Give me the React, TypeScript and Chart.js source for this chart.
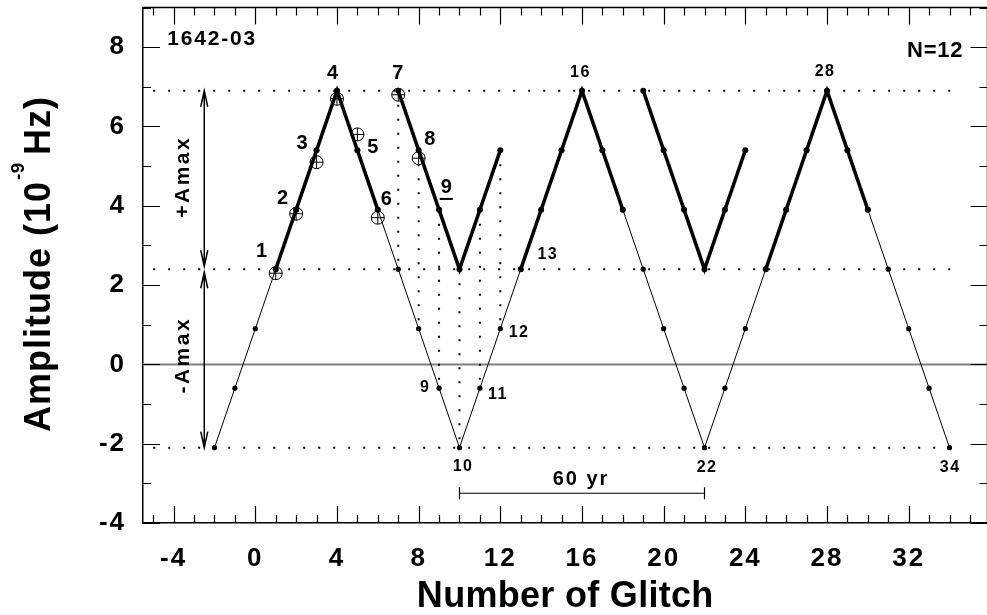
import React, { useEffect, useRef } from 'react';
import { Chart, registerables } from 'chart.js';

Chart.register(...registerables);

const FONT = '"Liberation Sans", Arial, Helvetica, sans-serif';

// model sawtooth (thin line): glitch number vs amplitude
const glitchX = [-2, -1, 0, 1, 2, 3, 4, 5, 6, 7, 8, 9, 10, 11, 12, 13, 14, 15, 16, 17, 18, 19, 20, 21, 22, 23, 24, 25, 26, 27, 28, 29, 30, 31, 32, 33, 34];
const modelAmp = [-2.1, -0.6, 0.9, 2.4, 3.9, 5.4, 6.9, 5.4, 3.9, 2.4, 0.9, -0.6, -2.1, -0.6, 0.9, 2.4, 3.9, 5.4, 6.9, 5.4, 3.9, 2.4, 0.9, -0.6, -2.1, -0.6, 0.9, 2.4, 3.9, 5.4, 6.9, 5.4, 3.9, 2.4, 0.9, -0.6, -2.1];

// folded (thick) branch
const thickX = [1, 2, 3, 4, 5, 6, 7, 8, 9, 10, 11, 12, 13, 14, 15, 16, 17, 18, 19, 20, 21, 22, 23, 24, 25, 26, 27, 28, 29, 30];
const thickAmp = [2.4, 3.9, 5.4, 6.9, 5.4, 3.9, 6.9, 5.4, 3.9, 2.4, 3.9, 5.4, 2.4, 3.9, 5.4, 6.9, 5.4, 3.9, 6.9, 5.4, 3.9, 2.4, 3.9, 5.4, 2.4, 3.9, 5.4, 6.9, 5.4, 3.9];
const thickBreaksAfter = [6, 12, 18, 24];

// observed glitches (circle-plus markers)
const obsX = [1, 2, 3, 4, 5, 6, 7, 8];
const obsAmp = [2.3, 3.8, 5.1, 6.7, 5.8, 3.7, 6.8, 5.2];

// reference levels and vertical drops
const levels = [6.9, 2.4, -2.1];
const levelSpan = [-5.0, 34.4];
const dropX = [7, 8, 9, 10, 11, 12];

// axes
const xRange = [-5.5, 35.86];
const yRange = [-4, 9];
const xTicks = [-4, 0, 4, 8, 12, 16, 20, 24, 28, 32];
const yTicks = [-4, -2, 0, 2, 4, 6, 8];
const xMinorRange = [-5, 35];
const yMinorRange = [-4, 9];

// annotations (text, glitch number, amplitude)
const bigLabels: [string, number, number][] = [
  ['1', 0.31, 2.85], ['2', 1.34, 4.18], ['3', 2.29, 5.58], ['4', 3.78, 7.33],
  ['5', 5.76, 5.48], ['6', 6.42, 4.15], ['7', 6.98, 7.33], ['8', 8.55, 5.66],
];
const underlinedLabel: [string, number, number] = ['9', 9.35, 4.45];
const smallLabels: [string, number, number][] = [
  ['13', 14.29, 2.78], ['16', 15.89, 7.35], ['28', 27.87, 7.38], ['12', 12.88, 0.8],
  ['11', 11.85, -0.75], ['9', 8.29, -0.58], ['10', 10.14, -2.58], ['22', 22.09, -2.6], ['34', 34.0, -2.6],
];
const pulsarName = '1642-03';
const pulsarPos = [-4.31, 8.2];
const nLabel = 'N=12';
const nPos = [34.64, 7.91];
const arrowX = -2.5;
const amaxLabelX = -3.55;
const plusAmaxY = 4.7;
const minusAmaxY = 0.2;
const scaleBarX = [10, 22];
const scaleBarY = -3.25;
const scaleBarLabel = '60 yr';

function drawText(ctx: CanvasRenderingContext2D, s: string, x: number, y: number, size: number, align: CanvasTextAlign, spacing: number) {
  ctx.font = `bold ${size}px ${FONT}`;
  (ctx as any).letterSpacing = `${spacing}px`;
  ctx.textAlign = 'left';
  ctx.textBaseline = 'middle';
  const w = ctx.measureText(s).width - spacing;
  let x0 = x;
  if (align === 'center') x0 = x - w / 2;
  else if (align === 'right') x0 = x - w;
  ctx.fillText(s, x0, y);
  return { x0, w };
}

const decorPlugin = {
  id: 'decor',
  beforeDraw(chart: any) {
    chart.ctx.letterSpacing = '2px';
  },
  afterDatasetsDraw(chart: any) {
    const { ctx, chartArea: a, scales } = chart;
    const x = scales.x;
    const y = scales.y;
    ctx.save();
    ctx.fillStyle = '#000';
    ctx.strokeStyle = '#000';

    // top and right frame
    ctx.lineWidth = 1.5;
    ctx.beginPath();
    ctx.moveTo(a.left, a.top);
    ctx.lineTo(a.right, a.top);
    ctx.lineTo(a.right, a.bottom);
    ctx.stroke();

    // inward ticks on all sides
    ctx.lineWidth = 1.2;
    ctx.beginPath();
    for (let v = xMinorRange[0]; v <= xMinorRange[1]; v++) {
      const px = Math.round(x.getPixelForValue(v)) + 0.5;
      const len = xTicks.includes(v) ? 17 : 8;
      ctx.moveTo(px, a.bottom);
      ctx.lineTo(px, a.bottom - len);
      ctx.moveTo(px, a.top);
      ctx.lineTo(px, a.top + len);
    }
    for (let v = yMinorRange[0]; v <= yMinorRange[1]; v++) {
      const py = Math.round(y.getPixelForValue(v)) + 0.5;
      const len = yTicks.includes(v) ? 17 : 8;
      ctx.moveTo(a.left, py);
      ctx.lineTo(a.left + len, py);
      ctx.moveTo(a.right, py);
      ctx.lineTo(a.right - len, py);
    }
    ctx.stroke();

    // double arrows for +Amax / -Amax
    const ax = x.getPixelForValue(arrowX);
    const yTop = y.getPixelForValue(levels[0]);
    const yMid = y.getPixelForValue(levels[1]);
    const yBot = y.getPixelForValue(levels[2]);
    ctx.lineWidth = 1.5;
    const head = (tipY: number, dir: number) => {
      ctx.moveTo(ax - 3.5, tipY + dir * 16);
      ctx.lineTo(ax, tipY);
      ctx.lineTo(ax + 3.5, tipY + dir * 16);
    };
    ctx.beginPath();
    ctx.moveTo(ax, yTop);
    ctx.lineTo(ax, yMid - 3);
    ctx.moveTo(ax, yMid + 3);
    ctx.lineTo(ax, yBot);
    head(yTop, 1);
    head(yMid - 3, -1);
    head(yMid + 3, 1);
    head(yBot, -1);
    ctx.stroke();

    // Amax labels (rotated)
    const lx = x.getPixelForValue(amaxLabelX);
    [['+Amax', plusAmaxY], ['-Amax', minusAmaxY]].forEach(([s, v]) => {
      ctx.save();
      ctx.translate(lx, y.getPixelForValue(v as number));
      ctx.rotate(-Math.PI / 2);
      drawText(ctx, s as string, 0, 0, 21, 'center', 2.5);
      ctx.restore();
    });

    // 60 yr scale bar
    const b0 = x.getPixelForValue(scaleBarX[0]);
    const b1 = x.getPixelForValue(scaleBarX[1]);
    const by = y.getPixelForValue(scaleBarY);
    ctx.lineWidth = 1.2;
    ctx.beginPath();
    ctx.moveTo(b0, by); ctx.lineTo(b1, by);
    ctx.moveTo(b0, by - 6); ctx.lineTo(b0, by + 6);
    ctx.moveTo(b1, by - 6); ctx.lineTo(b1, by + 6);
    ctx.stroke();
    drawText(ctx, scaleBarLabel, x.getPixelForValue((scaleBarX[0] + scaleBarX[1]) / 2) - 2, by - 14, 20, 'center', 2);

    // point labels
    bigLabels.forEach(([s, vx, vy]) => drawText(ctx, s, x.getPixelForValue(vx), y.getPixelForValue(vy), 20, 'center', 0));
    const u = drawText(ctx, underlinedLabel[0], x.getPixelForValue(underlinedLabel[1]), y.getPixelForValue(underlinedLabel[2]), 20, 'center', 0);
    ctx.fillRect(u.x0 - 1, y.getPixelForValue(underlinedLabel[2]) + 10, u.w + 2, 2);
    smallLabels.forEach(([s, vx, vy]) => drawText(ctx, s, x.getPixelForValue(vx), y.getPixelForValue(vy), 16, 'center', 1.5));
    drawText(ctx, pulsarName, x.getPixelForValue(pulsarPos[0]), y.getPixelForValue(pulsarPos[1]), 21, 'left', 1.8);
    drawText(ctx, nLabel, x.getPixelForValue(nPos[0]), y.getPixelForValue(nPos[1]), 22, 'right', 0.8);

    // axis titles
    ctx.font = `bold 36px ${FONT}`;
    (ctx as any).letterSpacing = '0.3px';
    ctx.textAlign = 'center';
    ctx.textBaseline = 'alphabetic';
    ctx.fillText('Number of Glitch', (a.left + a.right) / 2, 607);

    ctx.save();
    ctx.translate(50, 432);
    ctx.rotate(-Math.PI / 2);
    ctx.textAlign = 'left';
    ctx.font = `bold 36px ${FONT}`;
    (ctx as any).letterSpacing = '1px';
    const p1 = 'Amplitude (10';
    ctx.fillText(p1, 0, 0);
    const w1 = ctx.measureText(p1).width;
    ctx.font = `bold 19px ${FONT}`;
    (ctx as any).letterSpacing = '0.5px';
    ctx.fillText('-9', w1 + 1, -26);
    const w2 = ctx.measureText('-9').width;
    ctx.font = `bold 36px ${FONT}`;
    (ctx as any).letterSpacing = '1px';
    ctx.fillText('Hz)', w1 + w2 + 8, 0);
    ctx.restore();

    ctx.restore();
    chart.ctx.letterSpacing = '2px';
  },
};

export default function App() {
  const ref = useRef<HTMLCanvasElement | null>(null);

  useEffect(() => {
    if (!ref.current) return;
    const pts = (xs: number[], ys: number[]) => xs.map((v, i) => ({ x: v, y: ys[i] }));
    const guide = (data: { x: number; y: number }[], dash: number[], color = '#000', width = 2, order = 10) => ({
      type: 'line' as const,
      data,
      borderColor: color,
      borderWidth: width,
      borderDash: dash,
      pointRadius: 0,
      fill: false,
      order,
    });

    const datasets: any[] = [
      guide([{ x: xRange[0], y: 0 }, { x: xRange[1], y: 0 }], [], '#808080', 2, 12),
      ...levels.map((l) => guide([{ x: levelSpan[0], y: l }, { x: levelSpan[1], y: l }], [2, 13])),
      ...dropX.map((dx) =>
        guide(
          [
            { x: dx, y: thickAmp[thickX.indexOf(dx)] },
            { x: dx, y: modelAmp[glitchX.indexOf(dx)] },
          ],
          [2, 12],
        ),
      ),
      {
        type: 'line',
        data: pts(glitchX, modelAmp),
        borderColor: '#000',
        borderWidth: 1,
        pointRadius: 2.6,
        pointBackgroundColor: '#000',
        pointBorderWidth: 0,
        fill: false,
        order: 5,
      },
      {
        type: 'line',
        data: pts(thickX, thickAmp),
        borderColor: '#000',
        borderWidth: 3.6,
        pointRadius: 3,
        pointBackgroundColor: '#000',
        pointBorderWidth: 0,
        fill: false,
        order: 3,
        segment: {
          borderColor: (c: any) => (thickBreaksAfter.includes(c.p0.parsed.x) ? 'rgba(0,0,0,0)' : '#000'),
        },
      },
      {
        type: 'line',
        data: pts(obsX, obsAmp),
        showLine: false,
        pointStyle: 'circle',
        pointRadius: 6.5,
        pointBorderWidth: 1,
        pointBorderColor: '#000',
        pointBackgroundColor: 'rgba(255,255,255,0)',
        order: 1,
      },
      {
        type: 'line',
        data: pts(obsX, obsAmp),
        showLine: false,
        pointStyle: 'cross',
        pointRadius: 6.5,
        pointBorderWidth: 1,
        pointBorderColor: '#000',
        order: 0,
      },
    ];

    const chart = new Chart(ref.current, {
      type: 'line',
      data: { datasets },
      options: {
        animation: false,
        responsive: false,
        events: [],
        layout: { padding: { top: 3, right: 5, left: 0, bottom: 0 } },
        plugins: { legend: { display: false }, tooltip: { enabled: false }, title: { display: false } },
        scales: {
          x: {
            type: 'linear',
            min: xRange[0],
            max: xRange[1],
            grid: { display: false, drawTicks: false },
            border: { display: true, color: '#000', width: 1.5 },
            ticks: {
              color: '#000',
              font: { family: FONT, size: 26, weight: 'bold' },
              padding: 20,
              autoSkip: false,
              maxRotation: 0,
            },
            afterBuildTicks: (s: any) => {
              s.ticks = xTicks.map((v) => ({ value: v }));
            },
            afterFit: (s: any) => {
              s.height = 92;
              s.paddingLeft = 0;
              s.paddingRight = 0;
            },
          },
          y: {
            type: 'linear',
            min: yRange[0],
            max: yRange[1],
            grid: { display: false, drawTicks: false },
            border: { display: true, color: '#000', width: 1.5 },
            ticks: {
              color: '#000',
              font: { family: FONT, size: 26, weight: 'bold' },
              padding: 17,
              autoSkip: false,
            },
            afterBuildTicks: (s: any) => {
              s.ticks = yTicks.map((v) => ({ value: v }));
            },
            afterFit: (s: any) => {
              s.width = 143;
              s.paddingTop = 0;
              s.paddingBottom = 0;
            },
          },
        },
      } as any,
      plugins: [decorPlugin as any],
    });
    return () => chart.destroy();
  }, []);

  return (
    <div style={{ position: 'fixed', left: 0, top: 0, width: 987, height: 615, overflow: 'hidden', background: '#fff' }}>
      <canvas ref={ref} width={995} height={615} style={{ display: 'block' }} />
    </div>
  );
}
